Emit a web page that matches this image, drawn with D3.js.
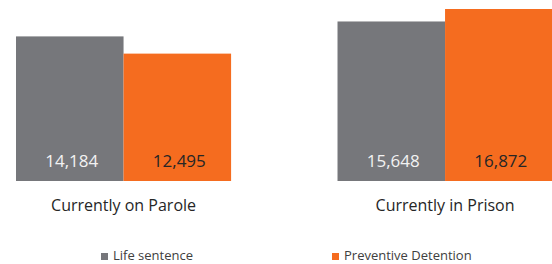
<!DOCTYPE html>
<html>
<head>
<meta charset="utf-8">
<script src="https://d3js.org/d3.v7.min.js"></script>
<style>
  body { margin: 0; background: #fff; }
  text { font-family: "Open Sans", sans-serif; }
</style>
</head>
<body>
<script>
var categories = ["Currently on Parole", "Currently in Prison"];
var seriesNames = ["Life sentence", "Preventive Detention"];
var lifeSentence = [14184, 15648];
var preventive = [12495, 16872];

var colors = ["#76777b", "#f56c1f"];
var labelColors = ["#f2f2f2", "#262626"];

var width = 552, height = 264;

var svg = d3.select("body").append("svg")
  .attr("width", width)
  .attr("height", height);

var x0 = d3.scaleBand()
  .domain(categories)
  .range([-37.2, 605.8])
  .paddingInner(0.331)
  .paddingOuter(0.1655);

var x1 = d3.scaleBand()
  .domain(seriesNames)
  .range([0, x0.bandwidth()]);

var y = d3.scaleLinear()
  .domain([0, 16872])
  .range([181, 9]);

var rows = categories.map(function(c, i) {
  return { cat: c, vals: [lifeSentence[i], preventive[i]] };
});

var g = svg.selectAll("g.grp")
  .data(rows)
  .enter().append("g")
  .attr("class", "grp")
  .attr("transform", function(d) { return "translate(" + x0(d.cat) + ",0)"; });

g.selectAll("rect")
  .data(function(d) { return d.vals.map(function(v, j) { return { s: seriesNames[j], v: v, j: j }; }); })
  .enter().append("rect")
  .attr("x", function(d) { return x1(d.s); })
  .attr("width", x1.bandwidth())
  .attr("y", function(d) { return y(d.v); })
  .attr("height", function(d) { return y(0) - y(d.v); })
  .attr("fill", function(d) { return colors[d.j]; });

g.selectAll("text.val")
  .data(function(d) { return d.vals.map(function(v, j) { return { s: seriesNames[j], v: v, j: j }; }); })
  .enter().append("text")
  .attr("class", "val")
  .attr("x", function(d) { return x1(d.s) + x1.bandwidth() / 2 + 2; })
  .attr("y", 167)
  .attr("text-anchor", "middle")
  .attr("font-size", "17px")
  .attr("fill", function(d) { return labelColors[d.j]; })
  .text(function(d) { return d3.format(",")(d.v); });

g.append("text")
  .attr("x", x0.bandwidth() / 2)
  .attr("y", 211)
  .attr("text-anchor", "middle")
  .attr("font-size", "16px")
  .attr("fill", "#262626")
  .text(function(d) { return d.cat; });

// legend
var legendX = [101, 332];
var leg = svg.selectAll("g.leg")
  .data(seriesNames)
  .enter().append("g")
  .attr("class", "leg")
  .attr("transform", function(d, i) { return "translate(" + legendX[i] + ",253)"; });

leg.append("rect")
  .attr("width", 7)
  .attr("height", 7)
  .attr("fill", function(d, i) { return colors[i]; });

leg.append("text")
  .attr("x", 12)
  .attr("y", 7)
  .attr("font-size", "13px")
  .attr("fill", "#404040")
  .text(function(d) { return d; });
</script>
</body>
</html>
